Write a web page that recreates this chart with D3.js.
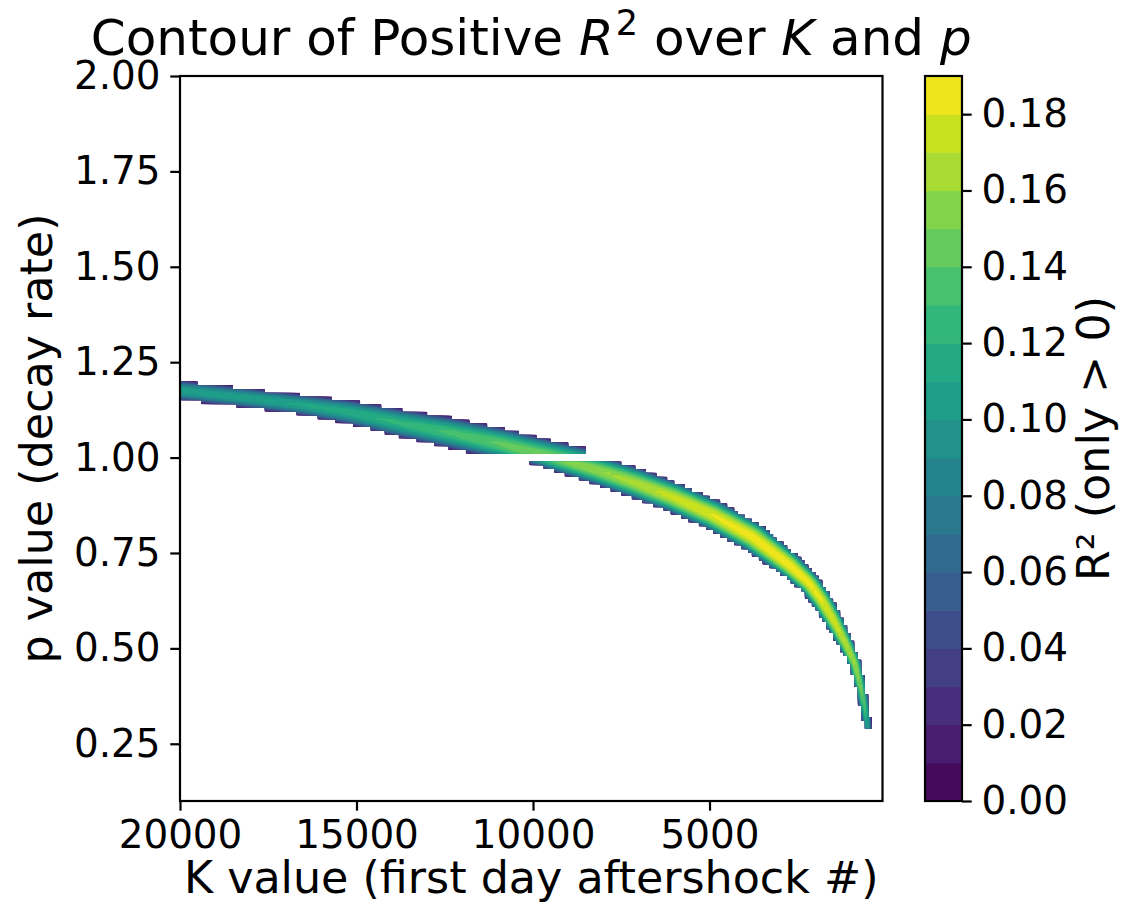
<!DOCTYPE html>
<html>
<head>
<meta charset="utf-8">
<script src="https://cdn.jsdelivr.net/npm/d3@7"></script>
<style>
  body { margin: 0; background: #fff; }
  text { font-family: "DejaVu Sans", sans-serif; fill: #000; }
</style>
</head>
<body>
<svg id="chart" width="1129" height="918"></svg>
<script>
// Parameter grid: K (first-day aftershock count) and p (Omori decay exponent)
const kStart = 100, kStop = 20000, kStep = 100;
const pStart = 0.10, pStop = 2.00, pStep = 0.01;
// the fit has no value at p = 1 exactly
const pUndefined = 1.00;

// Ridge of positive R² on the p > 1 side: centre K, centre p, half-width (in p), peak R²
const upperK    = [20600, 20000, 18000, 16600, 15200, 13800, 12400, 10900, 9800, 8500];
const upperP    = [1.181, 1.176, 1.155, 1.139, 1.119, 1.091, 1.066, 1.036, 1.007, 0.981];
const upperHalf = [0.030, 0.030, 0.030, 0.031, 0.036, 0.041, 0.045, 0.046, 0.050, 0.048];
const upperPeak = [0.108, 0.108, 0.110, 0.113, 0.118, 0.124, 0.133, 0.143, 0.152, 0.152];

// Ridge of positive R² on the p < 1 side
const lowerK    = [11800, 10300, 9240, 8110, 7180, 6050, 4910, 3780, 2730, 2170, 1830, 1490, 1150, 890, 720, 580, 520];
const lowerP    = [1.068, 1.026, 0.996, 0.965, 0.936, 0.897, 0.850, 0.792, 0.718, 0.670, 0.627, 0.574, 0.514, 0.462, 0.399, 0.331, 0.286];
const lowerHalf = [0.040, 0.039, 0.040, 0.043, 0.045, 0.045, 0.045, 0.045, 0.039, 0.034, 0.033, 0.030, 0.025, 0.021, 0.018, 0.016, 0.014];
const lowerPeak = [0.145, 0.150, 0.155, 0.160, 0.166, 0.175, 0.182, 0.188, 0.189, 0.187, 0.183, 0.178, 0.172, 0.166, 0.156, 0.132, 0.105];

// Contour levels and tick labels
const levels  = [0.00, 0.01, 0.02, 0.03, 0.04, 0.05, 0.06, 0.07, 0.08, 0.09, 0.10,
                 0.11, 0.12, 0.13, 0.14, 0.15, 0.16, 0.17, 0.18, 0.19];
const xTicks  = [20000, 15000, 10000, 5000];
const yTicks  = [0.25, 0.50, 0.75, 1.00, 1.25, 1.50, 1.75, 2.00];
const cbTicks = [0.00, 0.02, 0.04, 0.06, 0.08, 0.10, 0.12, 0.14, 0.16, 0.18];

const svg = d3.select("#chart");
const plot = { left: 180, right: 882.5, top: 76, bottom: 801 };
const cbar = { left: 925, right: 962, top: 76, bottom: 801 };
const tickLen = 9.7, tickPad = 9.7, lineW = 2.2;
const tickFont = 38.9, labelFont = 44.4, titleFont = 50;

const x = d3.scaleLinear().domain([kStop, kStart]).range([plot.left, plot.right]);
const y = d3.scaleLinear().domain([pStart, pStop]).range([plot.bottom, plot.top]);
const pxPerP = Math.abs(y(1) - y(0));

const nLayers = levels.length - 1;
const layerColor = i => d3.interpolateViridis((i + 0.5) / nLayers);

// ---- build the R² field on the grid ----
function ridgeFrom(K, P, Hw, Pk) {
  return K.map((k, i) => ({ x: x(k), y: y(P[i]), hw: Hw[i] * pxPerP, peak: Pk[i] }));
}
const upperRidge = ridgeFrom(upperK, upperP, upperHalf, upperPeak);
const lowerRidge = ridgeFrom(lowerK, lowerP, lowerHalf, lowerPeak);

function ridgeValue(ridge, px, py) {
  let best = null;
  for (let s = 0; s < ridge.length - 1; s++) {
    const a = ridge[s], b = ridge[s + 1];
    const dx = b.x - a.x, dy = b.y - a.y;
    let t = ((px - a.x) * dx + (py - a.y) * dy) / (dx * dx + dy * dy);
    const beyond = (s === 0 && t < 0) || (s === ridge.length - 2 && t > 1);
    t = Math.max(0, Math.min(1, t));
    const d = Math.hypot(px - (a.x + t * dx), py - (a.y + t * dy));
    if (!best || d < best.d) best = { d, t, s, beyond };
  }
  if (best.beyond) return NaN;
  const a = ridge[best.s], b = ridge[best.s + 1];
  const hw = a.hw + (b.hw - a.hw) * best.t;
  const pk = a.peak + (b.peak - a.peak) * best.t;
  const u = best.d / hw;
  return u < 1 ? pk * (1 - u * u) : NaN;
}

const nK = Math.round((kStop - kStart) / kStep) + 1;
const nP = Math.round((pStop - pStart) / pStep) + 1;
const kAt = i => kStart + i * kStep;
const pAt = j => pStart + j * pStep;

const field = new Float64Array(nK * nP);
for (let j = 0; j < nP; j++) {
  const p = pAt(j);
  for (let i = 0; i < nK; i++) {
    const k = kAt(i);
    let v = NaN;
    if (p > pUndefined + 1e-9) v = ridgeValue(upperRidge, x(k), y(p));
    else if (p < pUndefined - 1e-9) v = ridgeValue(lowerRidge, x(k), y(p));
    field[j * nK + i] = v;
  }
}
const valid = (i, j) => !isNaN(field[j * nK + i]) && field[j * nK + i] > 0;

// values for the contour generator; missing points sit below the lowest level
const filled = Array.from(field, v => (isNaN(v) || v <= 0) ? -0.05 : v);

// cells with all four corners defined (masked cells are left blank)
let maskPath = "";
for (let j = 0; j < nP - 1; j++) {
  let i = 0;
  const ok = c => valid(c, j) && valid(c + 1, j) && valid(c, j + 1) && valid(c + 1, j + 1);
  while (i < nK - 1) {
    if (!ok(i)) { i++; continue; }
    let e = i;
    while (e + 1 < nK - 1 && ok(e + 1)) e++;
    const xa = x(kAt(i)), xb = x(kAt(e + 1));
    const ya = y(pAt(j + 1)), yb = y(pAt(j));
    const l = Math.min(xa, xb), r = Math.max(xa, xb);
    maskPath += `M${l},${ya}H${r}V${yb}H${l}Z`;
    i = e + 1;
  }
}

const defs = svg.append("defs");
defs.append("clipPath").attr("id", "cellMask").append("path").attr("d", maskPath);

// grid index space -> screen
const toScreen = d3.geoTransform({
  point(u, v) {
    this.stream.point(x(kStart + (u - 0.5) * kStep), y(pStart + (v - 0.5) * pStep));
  }
});
const gridPath = d3.geoPath(toScreen);

const bands = d3.contours().size([nK, nP]).thresholds(levels.slice(0, -1))(filled);

svg.append("g")
  .attr("clip-path", "url(#cellMask)")
  .selectAll("path")
  .data(bands)
  .join("path")
  .attr("d", gridPath)
  .attr("fill", (d, i) => layerColor(i))
  .attr("stroke", "none");

// ---- axes ----
const fmt2 = d3.format(".2f");

const xAxis = svg.append("g")
  .attr("transform", `translate(0,${plot.bottom})`)
  .call(d3.axisBottom(x).tickValues(xTicks).tickFormat(d3.format("d"))
    .tickSize(tickLen).tickPadding(tickPad));
const yAxis = svg.append("g")
  .attr("transform", `translate(${plot.left},0)`)
  .call(d3.axisLeft(y).tickValues(yTicks).tickFormat(fmt2)
    .tickSize(tickLen).tickPadding(tickPad));

[xAxis, yAxis].forEach(g => {
  g.select(".domain").remove();
  g.selectAll(".tick line").attr("stroke", "#000").attr("stroke-width", lineW);
  g.selectAll(".tick text").attr("font-size", tickFont)
    .attr("font-family", "DejaVu Sans").attr("fill", "#000");
});

svg.append("rect")
  .attr("x", plot.left).attr("y", plot.top)
  .attr("width", plot.right - plot.left).attr("height", plot.bottom - plot.top)
  .attr("fill", "none").attr("stroke", "#000").attr("stroke-width", lineW);

// ---- titles ----
svg.append("text")
  .attr("x", (plot.left + plot.right) / 2).attr("y", 893)
  .attr("text-anchor", "middle").attr("font-size", labelFont)
  .text("K value (first day aftershock #)");

svg.append("text")
  .attr("transform", `translate(52,${(plot.top + plot.bottom) / 2}) rotate(-90)`)
  .attr("text-anchor", "middle").attr("font-size", labelFont)
  .text("p value (decay rate)");

const title = svg.append("text")
  .attr("x", (plot.left + plot.right) / 2).attr("y", 54.5)
  .attr("text-anchor", "middle").attr("font-size", titleFont);
title.append("tspan").text("Contour of Positive ");
title.append("tspan").attr("font-style", "italic").text("R");
title.append("tspan").attr("font-size", titleFont * 0.7).attr("dy", -20).attr("dx", 2).text("2");
title.append("tspan").attr("dy", 20).text(" over ");
title.append("tspan").attr("font-style", "italic").text("K");
title.append("tspan").text(" and ");
title.append("tspan").attr("font-style", "italic").text("p");

// ---- colour bar ----
const yc = d3.scaleLinear().domain([levels[0], levels[levels.length - 1]])
  .range([cbar.bottom, cbar.top]);
const cb = svg.append("g");
cb.selectAll("rect.layer")
  .data(d3.pairs(levels))
  .join("rect")
  .attr("class", "layer")
  .attr("x", cbar.left).attr("width", cbar.right - cbar.left)
  .attr("y", d => yc(d[1])).attr("height", d => yc(d[0]) - yc(d[1]) + 0.6)
  .attr("fill", (d, i) => layerColor(i));
cb.append("rect")
  .attr("x", cbar.left).attr("y", cbar.top)
  .attr("width", cbar.right - cbar.left).attr("height", cbar.bottom - cbar.top)
  .attr("fill", "none").attr("stroke", "#000").attr("stroke-width", lineW);

const cAxis = svg.append("g")
  .attr("transform", `translate(${cbar.right},0)`)
  .call(d3.axisRight(yc).tickValues(cbTicks).tickFormat(fmt2)
    .tickSize(tickLen).tickPadding(tickPad));
cAxis.select(".domain").remove();
cAxis.selectAll(".tick line").attr("stroke", "#000").attr("stroke-width", lineW);
cAxis.selectAll(".tick text").attr("font-size", tickFont)
  .attr("font-family", "DejaVu Sans").attr("fill", "#000");

svg.append("text")
  .attr("transform", `translate(1109,${(cbar.top + cbar.bottom) / 2}) rotate(-90)`)
  .attr("text-anchor", "middle").attr("font-size", labelFont)
  .text("R² (only > 0)");
</script>
</body>
</html>
